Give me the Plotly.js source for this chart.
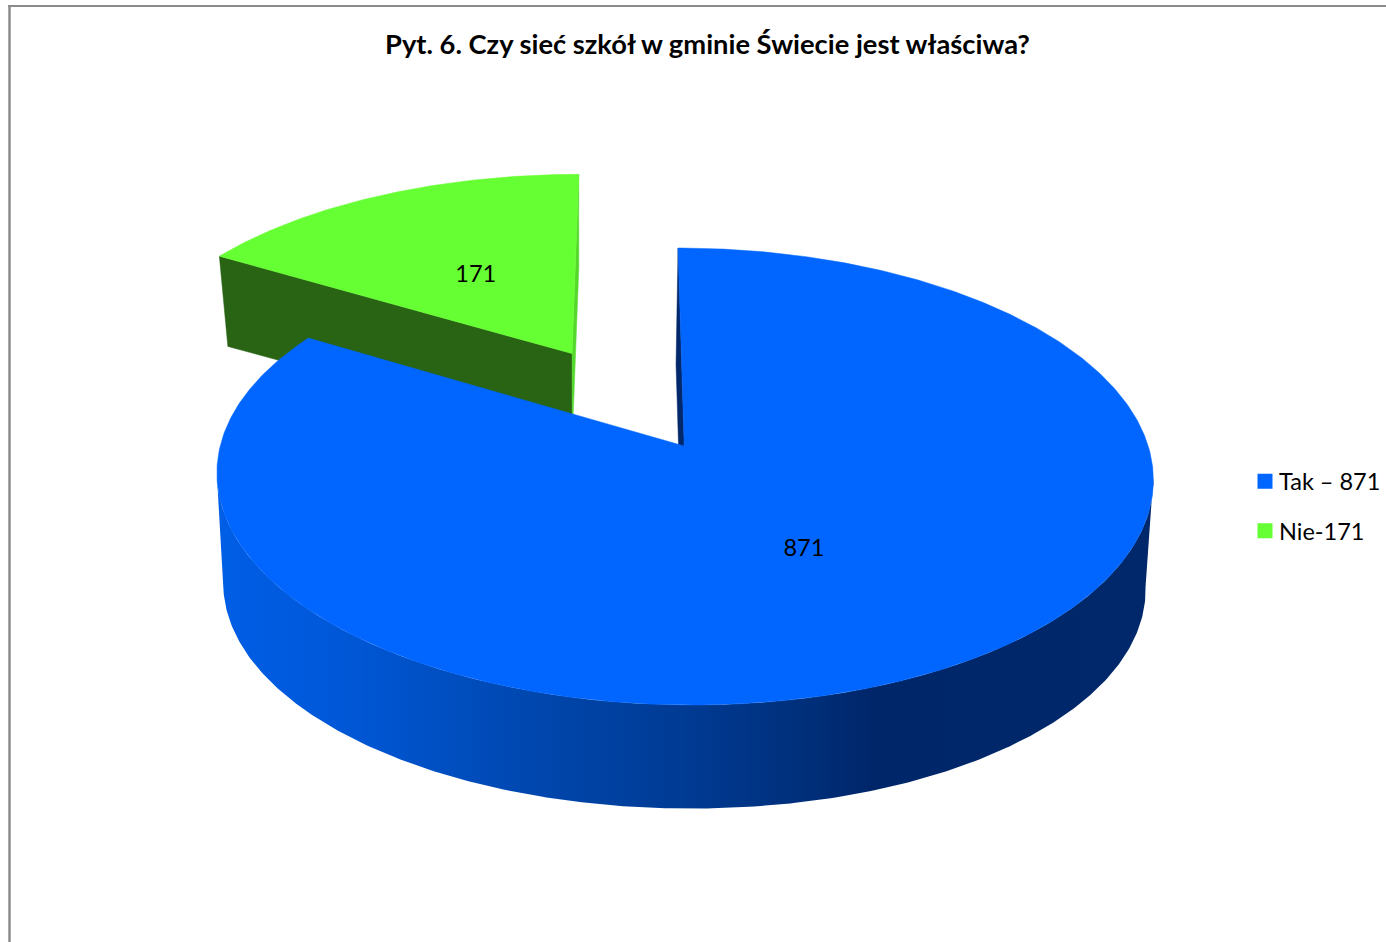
<!DOCTYPE html>
<html><head><meta charset="utf-8">
<script src="https://cdn.plot.ly/plotly-3.0.1.min.js"></script>
<style>html,body{margin:0;padding:0;background:#fff}#c{width:1386px;height:942px}</style>
</head><body><div id="c"></div>
<script>
const categories = ['Tak – 871', 'Nie-171'];
const values = [871, 171];
const labels = ['871', '171'];
const BLUE='#0066FF', GREEN='#66FF33', DKGREEN='#296314', WALLGREEN='#55D82C', NAVY='#00286A';
const total = values[0]+values[1];
const frac = values[1]/total;
const A0 = -frac*2*Math.PI;         // green slice starts here, blue follows clockwise from 0
const mid = A0/2;
const EX = 0.5;                     // explosion of the green slice
const P = 0.1335;
const topPlane  = {x0:684.2, y0:446,   k:224.4, kx:464, s:0.031};
const topGreen  = {x0:684,   y0:446.5, k:226,   kx:468, s:0.031};
const lowPlane  = {x0:683.5, y0:557,   k:218,   kx:457, s:0.031};
const lowWall   = {x0:682,   y0:557,   k:218,   kx:457, s:0.031};
const lowGreen  = {x0:681.5, y0:530,   k:218,   kx:457, s:0.031};
function proj(pl,u,v){
  const w=1+P*v, dy=-pl.k*v/w, dx=pl.kx*u/w;
  return [pl.x0+dx+pl.s*dy, pl.y0+dy];
}
function arc(pl,a,b,ox,oy){
  const out=[], n=Math.max(8,Math.ceil(Math.abs(b-a)/0.01));
  for(let i=0;i<=n;i++){const t=a+(b-a)*i/n; out.push(proj(pl,(ox||0)+Math.sin(t),(oy||0)+Math.cos(t)));}
  return out;
}
function poly(pts,color,extra){
  return Object.assign({type:'scatter',mode:'lines',x:pts.map(p=>p[0]),y:pts.map(p=>p[1]),fill:'toself',
    fillcolor:color,line:{color:color,width:0.5},hoverinfo:'skip',showlegend:false},extra||{});
}
const ox=EX*Math.sin(mid), oy=EX*Math.cos(mid);
const blueEnd=2*Math.PI*values[0]/total;
const traces=[];
// green slice: side, inner wall, top
const gApexT=proj(topGreen,ox,oy), gApexL=proj(lowGreen,ox,oy);
const gA=proj(topGreen,ox+Math.sin(A0),oy+Math.cos(A0)), gAL=proj(lowGreen,ox+Math.sin(A0),oy+Math.cos(A0));
const g0=proj(topGreen,ox,oy+1), g0L=proj(lowGreen,ox,oy+1);
traces.push(poly([gA,gApexT,gApexL,gAL,gA],DKGREEN));
traces.push(poly([g0,g0L,gApexL,gApexT,g0],WALLGREEN));
traces.push(poly([gApexT].concat(arc(topGreen,A0,0,ox,oy)).concat([gApexT]),GREEN));
// blue slice: inner wall, rim, top
const b0=proj(topPlane,0,1), b0L=proj(lowWall,0,1), bApex=proj(topPlane,0,0), bApexL=proj(lowWall,0,0);
traces.push(poly([b0,b0L,bApexL,bApex,b0],NAVY));
const tR=Math.PI-Math.acos(P), tL=2*Math.PI-tR;
const rim=arc(lowPlane,tR,tL).concat(arc(topPlane,tL,tR));
rim.push(rim[0]);
traces.push(poly(rim,'#0050C8',{line:{width:0,color:'rgba(0,0,0,0)'},
  fillgradient:{type:'horizontal',start:216,stop:1152,colorscale:[
    [0,'#005EE6'],[0.13,'#0058D8'],[0.35,'#0046AC'],[0.51,'#003A92'],[0.64,'#002E78'],[0.7,'#00266A'],[1,'#00286A']]}}));
traces.push(poly([bApex].concat(arc(topPlane,0,blueEnd)).concat([bApex]),BLUE));
// data labels at half radius of each slice, with small font-related nudges
const lb=proj(topPlane,0.5*Math.sin(blueEnd/2),0.5*Math.cos(blueEnd/2));
const lg=proj(topGreen,ox+0.5*Math.sin(mid),oy+0.5*Math.cos(mid));
traces.push({type:'scatter',mode:'text',x:[lb[0]-5,lg[0]+4],y:[lb[1],lg[1]+6],text:labels,
  textfont:{family:'Lato',size:23.5,color:'#000'},textposition:'middle center',hoverinfo:'skip',showlegend:false});
// legend entries
[BLUE,GREEN].forEach((c,i)=>traces.push({type:'scatter',mode:'markers',x:[null],y:[null],name:categories[i],
  legendgroup:'g'+i,marker:{symbol:'square',size:15,color:c},hoverinfo:'skip'}));
const layout={
  width:1386,height:942,margin:{l:0,r:0,t:0,b:0},paper_bgcolor:'#fff',plot_bgcolor:'#fff',
  title:{text:'<b>Pyt. 6. Czy sieć szkół w gminie Świecie jest właściwa?</b>',x:707.5/1386,xanchor:'center',
    y:1-44/942,yanchor:'middle',font:{family:'Lato',size:27.3,color:'#000'}},
  xaxis:{range:[0,1386],visible:false,fixedrange:true},
  yaxis:{range:[942,0],visible:false,fixedrange:true},
  legend:{x:1239/1386,y:1-459.5/942,xanchor:'left',yanchor:'top',bgcolor:'rgba(0,0,0,0)',
    font:{family:'Lato',size:23.5,color:'#000'},itemwidth:30,tracegroupgap:16},
  shapes:[
    {type:'line',xref:'x',yref:'y',x0:9.5,x1:9.5,y0:5,y1:942,line:{color:'#8C8C8C',width:2.5}},
    {type:'line',xref:'x',yref:'y',x0:8,x1:1386,y0:6,y1:6,line:{color:'#8C8C8C',width:2}}
  ]
};
Plotly.newPlot('c',traces,layout,{displayModeBar:false,staticPlot:true}).then(gd=>{
  gd.querySelectorAll('.legendsymbols').forEach(n=>n.setAttribute('transform','translate(6,0)'));
});
</script></body></html>
